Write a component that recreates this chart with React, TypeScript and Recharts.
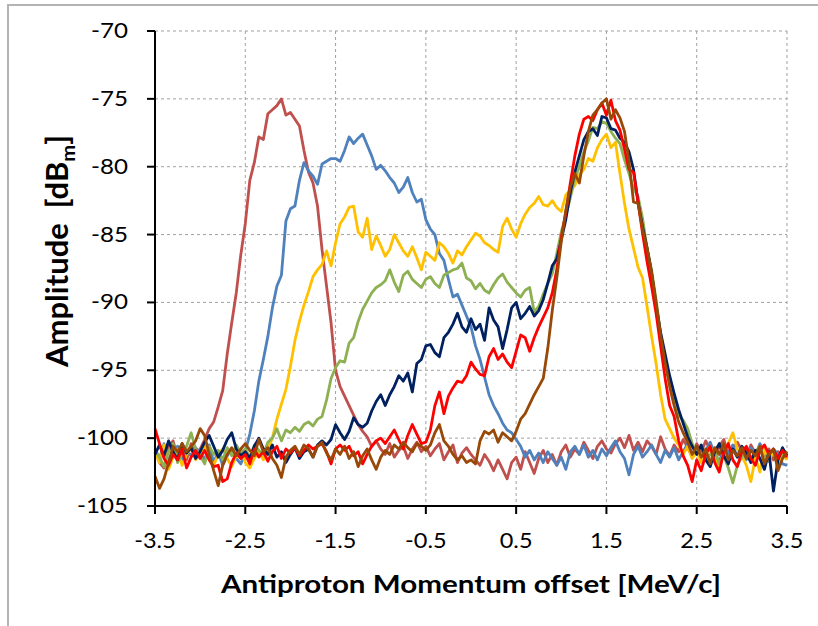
import { CartesianGrid, Line, LineChart, XAxis, YAxis } from "recharts";

// x grid: -3.5 .. 3.5 MeV/c, one sample every 0.05
const momentum = Array.from({ length: 141 }, (_, i) => Math.round((-3.5 + i * 0.05) * 100) / 100);

const xTicks = [-3.5, -2.5, -1.5, -0.5, 0.5, 1.5, 2.5, 3.5];
const yTicks = [-105, -100, -95, -90, -85, -80, -75, -70];

// amplitude traces in dBm, one value per momentum sample
const redBrown = [
  -101.0, -101.8, -102.2, -100.6, -100.2, -101.4, -100.8, -101.6, -100.4, -101.2,
  -100.8, -100.1, -99.3, -98.8, -97.7, -96.5, -93.8, -91.5, -89.3, -86.5,
  -84.2, -81.0, -79.7, -77.8, -78.0, -76.1, -75.8, -75.5, -75.0, -76.2,
  -76.0, -76.5, -77.0, -78.8, -80.4, -81.2, -82.9, -86.1, -88.8, -91.5,
  -95.0, -96.2, -96.9, -97.6, -98.3, -99.0, -99.5, -99.9, -100.6, -100.2,
  -100.8, -101.2, -100.4, -101.4, -100.9, -100.6, -101.5, -100.8, -100.3, -101.0,
  -100.6, -101.3, -100.8, -100.4, -101.6, -101.0, -100.5, -101.8, -101.1, -100.7,
  -101.2, -101.6, -102.0, -101.2, -101.7, -102.4, -101.6, -102.3, -103.0, -101.8,
  -101.4, -102.3, -101.0, -101.8, -102.6, -101.5, -100.9, -101.8, -101.2, -102.0,
  -101.0, -100.5, -101.4, -100.8, -101.2, -100.3, -100.9, -101.5, -100.6, -100.2,
  -100.8, -101.1, -100.4, -100.0, -100.7, -99.8, -100.9, -100.3, -101.0, -100.2,
  -100.6, -101.2, -99.9, -100.8, -101.3, -100.5, -101.0, -100.1, -100.7, -101.4,
  -100.4, -101.0, -100.2, -100.9, -101.5, -100.6, -100.1, -101.2, -100.8, -100.3,
  -100.9, -101.4, -100.5, -101.1, -100.7, -101.3, -100.8, -101.6, -101.0, -101.2,
  -101.5,
];

const blue = [
  -100.8, -101.5, -100.4, -101.9, -101.2, -100.6, -101.6, -100.9, -101.3, -100.7,
  -101.1, -101.6, -100.5, -101.8, -101.0, -102.0, -101.3, -100.8, -101.5, -101.9,
  -101.0, -99.7, -98.0, -95.8, -94.2, -92.5, -90.4, -88.8, -88.0, -84.0,
  -83.1, -82.9, -81.0, -79.7, -80.3, -80.7, -81.3, -79.8, -79.6, -79.4,
  -79.4, -79.6, -78.8, -77.8, -78.3, -77.9, -77.6, -78.4, -79.2, -80.2,
  -79.9, -80.3, -80.8, -81.2, -81.9, -81.5, -80.8, -81.9, -82.6, -82.4,
  -83.9, -84.6, -85.0, -86.4, -86.9, -88.3, -89.6, -89.4, -90.2, -91.0,
  -91.8, -93.2, -94.2, -95.5, -96.8, -97.6, -98.2, -98.9, -99.4, -99.6,
  -100.1, -100.6, -101.4, -100.9, -101.6, -101.1, -101.8, -101.0, -101.5, -102.0,
  -101.4, -102.3, -101.0, -100.6, -101.2, -100.5, -101.4, -100.9, -101.6, -100.8,
  -101.3, -100.7, -100.2, -101.0, -101.5, -102.7, -101.2, -100.6, -101.4, -101.0,
  -100.5, -101.2, -101.8, -100.9, -101.4, -100.7, -101.6, -101.0, -100.4, -101.3,
  -100.8, -101.5, -100.9, -100.3, -101.2, -101.8, -100.6, -101.1, -100.5, -101.4,
  -100.9, -101.6, -100.7, -101.3, -100.4, -101.0, -101.7, -100.8, -101.2, -101.9,
  -102.0,
];

const yellow = [
  -101.0, -101.8, -100.5, -102.3, -101.4, -100.8, -102.0, -101.2, -100.7, -101.6,
  -101.1, -100.6, -101.5, -102.0, -101.2, -100.8, -101.5, -102.1, -101.3, -100.9,
  -101.8, -102.2, -101.5, -101.0, -101.6, -100.8, -100.0, -98.6, -97.5, -96.4,
  -94.7, -92.8, -91.4, -90.2, -89.2, -88.1, -87.6, -87.2, -86.2, -87.3,
  -85.6, -84.2, -83.7, -83.0, -82.9, -84.8, -85.2, -83.8, -86.1, -85.1,
  -85.8, -86.6, -86.1, -85.0, -85.6, -86.2, -86.6, -85.9, -86.7, -87.6,
  -86.3, -86.6, -86.9, -85.6, -85.9, -86.4, -87.1, -86.2, -86.5, -85.9,
  -85.4, -84.9, -85.1, -85.6, -85.8, -86.1, -86.3, -84.4, -83.8, -84.6,
  -85.2, -84.2, -83.5, -83.0, -82.7, -82.2, -82.8, -82.9, -82.5, -83.0,
  -83.3, -82.1, -81.7, -81.4, -80.6, -80.2, -79.4, -79.6, -78.6, -78.0,
  -77.6, -78.6, -78.2, -80.5, -82.7, -84.6, -86.0, -87.4, -88.2, -90.3,
  -92.5, -94.5, -96.8, -98.6, -99.3, -100.0, -100.5, -101.2, -100.6, -101.5,
  -101.0, -101.8, -101.2, -100.6, -101.5, -102.2, -101.0, -100.4, -99.6, -100.8,
  -101.3, -102.0, -103.2, -101.4, -102.5, -100.8, -101.6, -101.0, -101.9, -101.2,
  -101.6,
];

const green = [
  -100.9, -101.4, -102.1, -101.0, -100.4, -101.8, -101.2, -100.6, -99.6, -100.8,
  -101.3, -101.9, -100.6, -101.2, -100.9, -101.6, -100.7, -101.3, -100.5, -101.1,
  -100.8, -101.4, -100.5, -100.9, -101.2, -100.3, -100.0, -99.3, -100.2, -99.4,
  -99.6, -99.2, -99.5, -99.0, -98.8, -99.1, -98.6, -98.4, -97.2, -95.6,
  -94.8, -94.3, -94.4, -93.0, -92.6, -91.4, -90.5, -89.9, -89.3, -88.9,
  -88.7, -88.4, -87.6, -88.5, -89.2, -88.0, -87.7, -88.3, -88.6, -88.9,
  -88.3, -88.1, -88.6, -88.9, -88.0, -87.8, -87.6, -87.5, -87.1, -88.2,
  -88.4, -89.0, -88.6, -89.1, -89.3, -88.7, -88.2, -87.9, -88.5, -88.9,
  -89.3, -89.6, -89.1, -88.9, -90.7, -90.3, -89.4, -88.6, -87.9, -86.4,
  -84.8, -83.6, -82.3, -80.9, -80.0, -78.9, -78.1, -77.1, -77.2, -76.7,
  -76.8, -77.4, -77.9, -78.3, -79.5, -80.5, -81.6, -82.2, -83.8, -86.0,
  -87.6, -89.8, -92.4, -94.4, -95.8, -97.2, -98.3, -98.7, -99.3, -100.4,
  -101.0, -100.6, -101.6, -101.2, -100.8, -101.9, -101.3, -102.2, -103.3, -102.0,
  -101.4, -100.8, -101.5, -101.0, -100.6, -101.7, -101.1, -100.9, -101.5, -101.2,
  -101.0,
];

const navy = [
  -101.2, -100.5, -101.3, -100.2, -101.0, -101.6, -100.4, -101.1, -100.7, -101.5,
  -101.0, -100.3, -99.8, -100.6, -101.4, -100.9, -100.1, -99.6, -100.8, -101.3,
  -101.0, -101.5, -100.6, -100.0, -100.8, -101.2, -100.5, -101.4, -101.0, -101.8,
  -101.2, -100.7, -101.5, -101.0, -100.8, -101.4, -100.5, -100.2, -100.5, -100.1,
  -99.0, -99.6, -100.1, -99.5, -98.5, -99.0, -99.2, -98.9, -98.0, -97.3,
  -96.8, -97.6, -96.8, -96.2, -95.4, -95.8, -95.2, -96.6, -94.5, -94.2,
  -93.2, -93.1, -93.7, -94.0, -92.6, -92.2, -91.6, -90.8, -91.8, -92.2,
  -91.2, -92.0, -91.6, -92.8, -90.4, -91.3, -91.8, -93.4, -92.0, -90.4,
  -90.0, -91.2, -90.8, -90.3, -91.0, -90.6, -89.8, -88.6, -87.3, -86.8,
  -85.4, -83.9, -81.9, -80.4, -79.2, -78.0, -77.4, -77.2, -77.7, -76.3,
  -76.4, -77.2, -77.3, -77.9, -78.2, -78.9, -80.2, -82.6, -84.4, -86.0,
  -87.8, -90.2, -92.2, -93.8, -95.4, -96.7, -97.9, -98.9, -99.9, -100.6,
  -101.2, -100.5, -101.6, -102.1, -101.0, -100.4, -101.3, -101.9, -100.8, -101.4,
  -100.6, -101.1, -101.8, -100.9, -101.5, -102.3, -101.0, -103.9, -101.6, -100.7,
  -101.3,
];

const red = [
  -99.3, -100.4, -101.5, -102.0, -101.2, -101.6, -100.8, -102.2, -101.4, -100.9,
  -101.5, -100.9, -101.6, -102.1, -102.0, -103.2, -103.0, -101.8, -101.1, -101.5,
  -101.2, -101.9, -100.8, -101.4, -101.0, -101.7, -101.0, -100.6, -101.5, -100.8,
  -101.1, -100.7, -101.3, -100.9, -100.5, -100.8, -100.6, -100.4, -101.0, -101.9,
  -100.8, -100.5, -100.9, -100.6, -101.3, -101.0, -101.9, -101.2, -100.6, -100.2,
  -100.0, -100.4, -99.9, -99.4, -100.1, -100.8, -99.8, -99.0, -99.7, -100.4,
  -100.3, -99.4, -97.6, -96.6, -98.2, -96.9, -96.3, -95.8, -95.9, -95.4,
  -94.4, -94.9, -95.3, -95.4, -94.0, -93.4, -94.2, -93.8, -94.4, -94.8,
  -93.6, -92.4, -92.6, -93.6, -92.6, -91.8, -91.1, -90.4, -89.3, -87.6,
  -85.2, -83.4, -81.2, -79.2, -77.6, -76.5, -76.3, -76.6, -75.8, -75.3,
  -76.2, -75.1, -76.6, -77.3, -78.7, -80.2, -80.4, -82.6, -84.9, -87.0,
  -88.8, -90.8, -93.2, -95.6, -97.6, -98.4, -100.2, -101.3, -102.0, -103.2,
  -101.6, -102.4, -101.2, -100.6, -101.8, -102.5, -101.0, -100.4, -101.6, -102.1,
  -101.0, -100.6, -101.5, -102.0, -100.9, -100.5, -101.2, -100.8, -101.5, -100.9,
  -101.4,
];

const brown = [
  -102.8, -103.7, -103.0, -101.8, -100.6, -101.0, -100.4, -101.0, -100.6, -100.2,
  -99.3, -99.8, -101.2, -102.4, -103.5, -102.0, -101.2, -100.7, -101.3, -100.8,
  -100.4, -100.9, -101.3, -100.1, -101.0, -100.7, -101.5, -102.0, -102.9, -101.4,
  -100.9, -100.6, -101.2, -100.5, -100.8, -101.4, -100.6, -100.3, -101.1, -101.6,
  -100.8, -101.2, -100.6, -101.5, -101.0, -102.1, -101.3, -100.8, -101.6, -102.3,
  -101.4, -100.9, -101.2, -100.5, -100.8, -100.3, -100.7, -101.0, -100.4, -100.6,
  -100.9, -100.5, -99.6, -99.0, -100.2, -100.6, -101.2, -101.6, -101.3, -101.8,
  -101.6, -101.9, -100.2, -99.5, -99.7, -99.4, -100.3, -99.6, -99.9, -100.2,
  -99.5, -98.6, -98.2, -97.5, -96.8, -96.2, -95.6, -93.4, -90.6, -88.2,
  -85.5, -83.2, -81.5, -80.5, -81.2, -79.2, -77.4, -76.2, -75.8, -75.3,
  -75.0, -76.5, -75.8, -76.4, -77.4, -79.6, -82.6, -82.7, -84.6, -86.0,
  -87.8, -90.0, -92.4, -94.4, -96.2, -97.6, -98.8, -99.6, -100.3, -101.2,
  -100.6, -101.4, -100.8, -101.9, -100.7, -101.2, -100.4, -101.6, -100.9, -101.3,
  -100.7, -101.5, -100.9, -101.3, -100.6, -101.9, -101.2, -100.8, -102.4, -101.5,
  -101.0,
];

const series = [
  { key: "redBrown", values: redBrown, color: "#C0504D" },
  { key: "blue", values: blue, color: "#4F81BD" },
  { key: "yellow", values: yellow, color: "#FFC000" },
  { key: "green", values: green, color: "#8DB052" },
  { key: "navy", values: navy, color: "#002060" },
  { key: "red", values: red, color: "#FF0000" },
  { key: "brown", values: brown, color: "#984807" },
];

const data = momentum.map((x, i) => {
  const row: Record<string, number> = { x };
  series.forEach((s) => {
    row[s.key] = s.values[i];
  });
  return row;
});

const FONT = "Lato, 'Liberation Sans', sans-serif";

function XTick({ x, y, payload }: any) {
  return (
    <text
      x={x}
      y={y + 32}
      textAnchor="middle"
      fontSize={21}
      fontFamily={FONT}
      fill="#000"
      transform={`matrix(1.12,0,0,1,${-0.12 * x},0)`}
    >
      {payload.value}
    </text>
  );
}

function YTick({ x, y, payload }: any) {
  return (
    <text
      x={x}
      y={y + 7}
      textAnchor="end"
      fontSize={21}
      fontFamily={FONT}
      fill="#000"
      transform={`matrix(1.15,0,0,1,${-0.15 * x},0)`}
    >
      {payload.value}
    </text>
  );
}

export default function App() {
  return (
    <div
      style={{
        position: "fixed",
        left: 0,
        top: 0,
        width: 818,
        height: 626,
        overflow: "hidden",
        background: "#fff",
      }}
    >
      <div
        style={{
          position: "absolute",
          left: 7,
          top: 4,
          width: 840,
          height: 660,
          borderLeft: "2px solid #B4B4B4",
          borderTop: "2px solid #B4B4B4",
        }}
      />
      <div style={{ position: "absolute", left: 0, top: 0 }}>
        <LineChart
          width={818}
          height={626}
          data={data}
          margin={{ top: 31, right: 31, bottom: 0, left: 0 }}
        >
          <CartesianGrid stroke="#A0A0A0" strokeDasharray="3 3" />
          <XAxis
            dataKey="x"
            type="number"
            domain={[-3.5, 3.5]}
            ticks={xTicks}
            interval={0}
            height={120}
            tickSize={8}
            tickMargin={2}
            axisLine={{ stroke: "#000", strokeWidth: 2 }}
            tickLine={{ stroke: "#000", strokeWidth: 2 }}
            tick={<XTick />}
          />
          <YAxis
            type="number"
            domain={[-105, -70]}
            ticks={yTicks}
            interval={0}
            width={155}
            tickSize={8}
            tickMargin={19}
            axisLine={{ stroke: "#000", strokeWidth: 2 }}
            tickLine={{ stroke: "#000", strokeWidth: 2 }}
            tick={<YTick />}
          />
          {series.map((s) => (
            <Line
              key={s.key}
              type="linear"
              dataKey={s.key}
              stroke={s.color}
              strokeWidth={2.8}
              strokeLinejoin="round"
              dot={false}
              isAnimationActive={false}
            />
          ))}
        </LineChart>
      </div>
      <svg
        width={818}
        height={626}
        style={{ position: "absolute", left: 0, top: 0, pointerEvents: "none" }}
      >
        <text
          x={471}
          y={593}
          textAnchor="middle"
          fontSize={24}
          fontWeight="bold"
          fontFamily={FONT}
          textLength={500}
          lengthAdjust="spacingAndGlyphs"
          fill="#000"
        >
          Antiproton Momentum offset [MeV/c]
        </text>
        <text
          transform="translate(68,251) rotate(-90) scale(1,1.15)"
          x={0}
          y={0}
          textAnchor="middle"
          fontSize={26}
          fontWeight="bold"
          fontFamily={FONT}
          textLength={232}
          lengthAdjust="spacingAndGlyphs"
          fill="#000"
        >
          {"Amplitude\u00A0 [dB"}
          <tspan fontSize={17} dy={6}>
            m
          </tspan>
          <tspan dy={-6}>]</tspan>
        </text>
      </svg>
    </div>
  );
}
